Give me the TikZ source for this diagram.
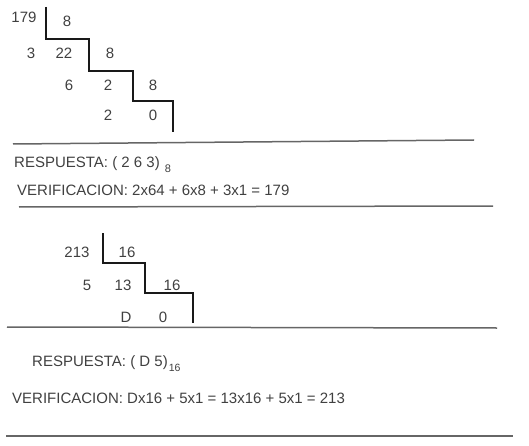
\documentclass[tikz,border=0pt]{standalone}
\usepackage{fontspec}
\setmainfont{Liberation Sans}
\begin{document}
\begin{tikzpicture}[x=1pt,y=-1pt,
  txt/.style={inner sep=0pt,text=black!75,font=\fontsize{15}{18}\selectfont},
  num/.style={txt,anchor=center},
  line/.style={anchor=base west},
  rule/.style={draw=black!60,line width=1.5pt},
  stair/.style={draw=black!90,line width=2.5pt,line join=miter}]
\useasboundingbox (0,0) rectangle (529,446);
% ---------- first division (179 / 8) ----------
\node[num] (n179) at (24,17) {179};
\node[num] (d1) at (67,21) {8};
\node[num] (r3) at (31,53) {3};
\node[num] (q22) at (64,53) {22};
\node[num] (d2) at (110,53) {8};
\node[num] (r6) at (69,85) {6};
\node[num] (q2) at (108,85) {2};
\node[num] (d3) at (153,85) {8};
\node[num] (r2) at (108,115) {2};
\node[num] (q0) at (153,115) {0};
\coordinate (s1a) at (46,7);
\coordinate (s1b) at (46,39);
\coordinate (s1c) at (89,39);
\coordinate (s1d) at (89,71);
\coordinate (s1e) at (133,71);
\coordinate (s1f) at (133,101);
\coordinate (s1g) at (173,101);
\coordinate (s1h) at (173,132);
\draw[stair] (s1a) -- (s1b) -- (s1c) -- (s1d) -- (s1e) -- (s1f) -- (s1g) -- (s1h);
\coordinate (l1a) at (13,144);
\coordinate (l1b) at (474,140);
\draw[rule] (l1a) -- (l1b);
\node[txt,line] (resp1) at (14,167.5) {RESPUESTA: ( 2 6 3)\hspace{5pt}\raisebox{-5.5pt}{\fontsize{11}{12}\selectfont 8}};
\node[txt,line] (ver1) at (17,196) {VERIFICACION: 2x64 + 6x8 + 3x1 = 179};
\coordinate (l2a) at (19,207);
\coordinate (l2b) at (493,206);
\draw[rule] (l2a) -- (l2b);
% ---------- second division (213 / 16) ----------
\node[num] (n213) at (77,252) {213};
\node[num] (e1) at (127,252) {16};
\node[num] (r5) at (87,285) {5};
\node[num] (q13) at (123,285) {13};
\node[num] (e2) at (172,285) {16};
\node[num] (rD) at (126,317) {D};
\node[num] (q00) at (163,317) {0};
\coordinate (s2a) at (103,233);
\coordinate (s2b) at (103,263);
\coordinate (s2c) at (145,263);
\coordinate (s2d) at (145,293);
\coordinate (s2e) at (193,293);
\coordinate (s2f) at (193,323);
\draw[stair] (s2a) -- (s2b) -- (s2c) -- (s2d) -- (s2e) -- (s2f);
\coordinate (l3a) at (7,327);
\coordinate (l3b) at (497,328);
\draw[rule] (l3a) -- (l3b);
\node[txt,line] (resp2) at (32,366.5) {RESPUESTA: ( D 5)\hspace{1pt}\raisebox{-5pt}{\fontsize{10.5}{12}\selectfont 16}};
\node[txt,line] (ver2) at (12,403) {VERIFICACION: Dx16 + 5x1 = 13x16 + 5x1 = 213};
\coordinate (l4a) at (6,436);
\coordinate (l4b) at (513,436);
\draw[rule] (l4a) -- (l4b);
\end{tikzpicture}
\end{document}
